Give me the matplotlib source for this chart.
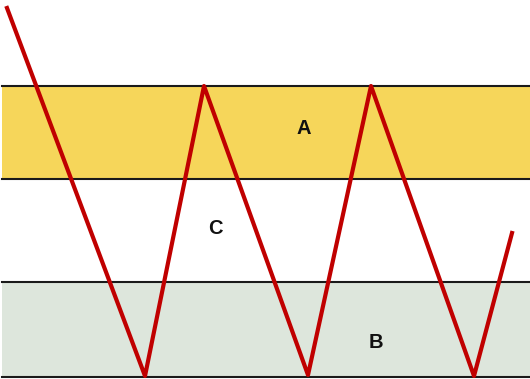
import matplotlib.pyplot as plt

# zone boundaries (data units, 0 = bottom of picture)
levels = [2, 97, 200, 293]
zone_names = ['B', 'C', 'A']
zone_colors = ['#dde6dc', '#ffffff', '#f6d65a']
label_x = [376, 215, 304]
label_y = [36, 150, 251]

# the zigzag price path
path_x = [7, 145, 204, 308, 371, 474, 512]
path_y = [371, 3, 293, 4, 293, 3, 146]

fig = plt.figure(figsize=(5.30, 3.79), dpi=100)
ax = fig.add_axes([0, 0, 1, 1])
ax.set_xlim(0, 530)
ax.set_ylim(0, 379)
ax.axis('off')

# coloured zones
for i in range(3):
    ax.axhspan(levels[i], levels[i + 1], xmin=2 / 530, xmax=1, color=zone_colors[i], lw=0, zorder=0)

# horizontal boundary lines
for lv in levels:
    ax.plot([2, 530], [lv, lv], color='#1a1a1a', lw=1.5, zorder=1)

ax.plot(path_x, path_y, color='#c00000', lw=3, solid_joinstyle='round', zorder=2)

for name, x, y in zip(zone_names, label_x, label_y):
    ax.text(x, y, name, ha='center', va='center', fontsize=14.5, fontweight='bold',
            family='Liberation Sans', color='#111111', zorder=3)

fig.savefig('out.png', dpi=100)
